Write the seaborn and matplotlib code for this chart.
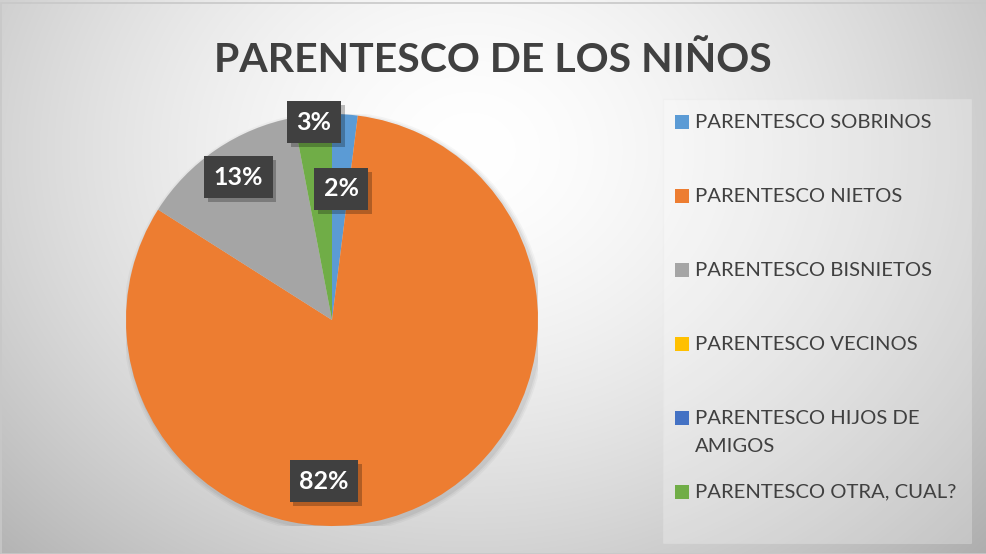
import numpy as np
import matplotlib
matplotlib.use("Agg")
import matplotlib.pyplot as plt
from matplotlib.patches import Rectangle
import matplotlib.patheffects as pe
import seaborn as sns

# ---- data ----
categories = ["PARENTESCO SOBRINOS", "PARENTESCO NIETOS", "PARENTESCO BISNIETOS",
              "PARENTESCO VECINOS", "PARENTESCO HIJOS DE\nAMIGOS", "PARENTESCO OTRA, CUAL?"]
values = [2, 82, 13, 0, 0, 3]
colors = ["#5B9BD5", "#ED7D31", "#A5A5A5", "#FFC000", "#4472C4", "#70AD47"]
title = "PARENTESCO DE LOS NIÑOS"

# label positions (pie-radius units) for the non-zero slices, as placed in the original
label_pos = {0: (0.044, 0.636), 1: (-0.039, -0.782), 2: (-0.454, 0.694), 5: (-0.087, 0.961)}

sns.set_theme(style="white")
plt.rcParams['font.family'] = ['Lato', 'DejaVu Sans']
palette = sns.color_palette(colors)

W, H = 987, 554
fig = plt.figure(figsize=(W / 100, H / 100), dpi=100)

# background radial gradient
bg = fig.add_axes([0, 0, 1, 1], zorder=-10)
yy, xx = np.mgrid[0:H, 0:W]
cx, cy = 470, 150
r = np.sqrt(((xx - cx) / 620.0) ** 2 + ((yy - cy) / 520.0) ** 2)
val = 1.0 - 0.26 * np.clip(r, 0, 1.2) ** 1.6
img = np.dstack([val, val, val])
bg.imshow(img, extent=[0, W, 0, H], origin="upper", aspect="auto")
bg.set_xlim(0, W)
bg.set_ylim(0, H)
bg.axis("off")
# thin frame
bg.add_patch(Rectangle((0.5, 0.5), W - 1, H - 3, fill=False, ec="#c8c8c8", lw=1.2))
# legend box
bg.add_patch(Rectangle((663, H - 543), 308, 444, fc="white", alpha=0.25, ec="#e6e6e6", lw=0.8))

# pie axes
cxp, cyp, R = 332, 320, 206
ax = fig.add_axes([(cxp - R) / W, (H - cyp - R) / H, 2 * R / W, 2 * R / H])
# soft shadow
for k, a in enumerate([0.05, 0.04, 0.03]):
    ax.add_patch(plt.Circle((0.01, -0.012), 1.0 + 0.008 * (k + 1), color="black", alpha=a, lw=0, zorder=0))
wedges, _ = ax.pie(values, colors=palette, startangle=90, counterclock=False, radius=1.0,
                   wedgeprops=dict(linewidth=0, edgecolor="none"))
for w in wedges:
    w.set_zorder(2)
ax.set_xlim(-1, 1)
ax.set_ylim(-1, 1)
ax.set_aspect("equal")
ax.axis("off")

total = sum(values)
for i, v in enumerate(values):
    if v == 0 or i not in label_pos:
        continue
    x, y = label_pos[i]
    txt = f"{round(100 * v / total)}%"
    t = ax.text(x, y, txt, ha="center", va="center", fontsize=18, fontweight="bold",
                color="white", zorder=5,
                bbox=dict(boxstyle="square,pad=0.38", fc="#404040", ec="none"))
    t.get_bbox_patch().set_path_effects(
        [pe.SimplePatchShadow(offset=(2.5, -3), shadow_rgbFace="black", alpha=0.25), pe.Normal()])

# title
fig.text(493 / W, 1 - 60 / H, title, ha="center", va="center", fontsize=29.5,
         fontweight="bold", color="#404040")

# legend (manual, matching spacing of original)
leg_y = [122, 196, 270, 344, 418, 492]
for i, (lab, c) in enumerate(zip(categories, palette)):
    y = leg_y[i]
    bg.add_patch(Rectangle((675, H - y - 7), 14, 14, fc=c, ec="none"))
    lines = lab.split("\n")
    for j, ln in enumerate(lines):
        bg.text(695, H - y - 29 * j, ln, ha="left", va="center", fontsize=14.6, color="#404040")

fig.savefig("out.png", dpi=100)
